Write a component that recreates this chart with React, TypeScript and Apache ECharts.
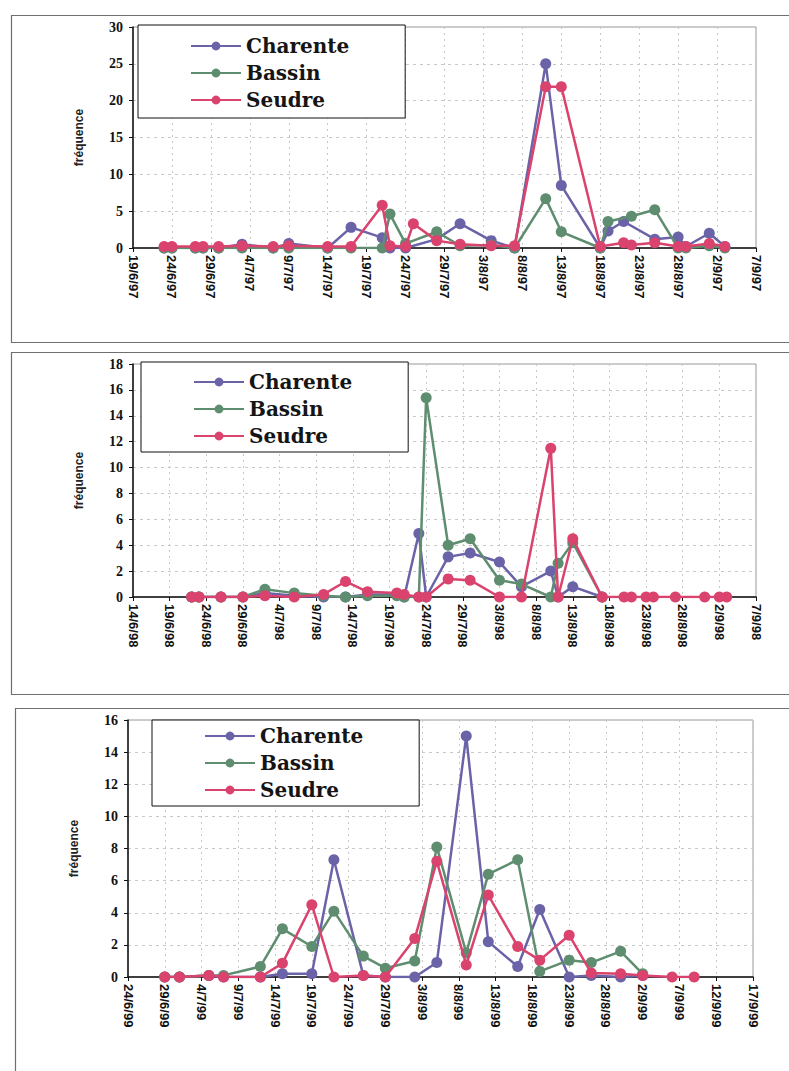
import React, { useEffect, useRef } from "react";
import * as echarts from "echarts";

// Weekly-ish sampling of larval frequency at three sites, summers 1997–1999.
// Each point: ["day/month", frequency]
const charente97: [string, number][] = [
  ["23/6", 0], ["24/6", 0], ["27/6", 0], ["28/6", 0], ["30/6", 0], ["3/7", 0.5], ["7/7", 0], ["9/7", 0.6],
  ["14/7", 0], ["17/7", 2.8], ["21/7", 1.4], ["22/7", 0], ["24/7", 0], ["28/7", 1.2], ["31/7", 3.3], ["4/8", 1.0],
  ["7/8", 0], ["11/8", 25], ["13/8", 8.5], ["18/8", 0], ["19/8", 2.3], ["21/8", 3.6], ["25/8", 1.2], ["28/8", 1.5],
  ["29/8", 0.2], ["1/9", 2.0], ["3/9", 0.2],
];
const bassin97: [string, number][] = [
  ["23/6", 0], ["24/6", 0], ["27/6", 0], ["28/6", 0], ["30/6", 0], ["3/7", 0], ["7/7", 0], ["9/7", 0],
  ["14/7", 0], ["17/7", 0], ["21/7", 0], ["22/7", 4.6], ["24/7", 0.6], ["28/7", 2.2], ["31/7", 0.3], ["4/8", 0.4],
  ["7/8", 0], ["11/8", 6.7], ["13/8", 2.2], ["18/8", 0], ["19/8", 3.6], ["22/8", 4.3], ["25/8", 5.2], ["28/8", 0],
  ["29/8", 0], ["1/9", 0.3], ["3/9", 0],
];
const seudre97: [string, number][] = [
  ["23/6", 0.2], ["24/6", 0.2], ["27/6", 0.2], ["28/6", 0.2], ["30/6", 0.2], ["3/7", 0.3], ["7/7", 0.2], ["9/7", 0.3],
  ["14/7", 0.2], ["17/7", 0.2], ["21/7", 5.8], ["22/7", 0.3], ["24/7", 0.2], ["25/7", 3.3], ["28/7", 1.0], ["31/7", 0.5],
  ["4/8", 0.3], ["7/8", 0.3], ["11/8", 21.9], ["13/8", 21.9], ["18/8", 0.2], ["21/8", 0.7], ["22/8", 0.4], ["25/8", 0.7],
  ["28/8", 0.2], ["29/8", 0.2], ["1/9", 0.6], ["3/9", 0.2],
];

const charente98: [string, number][] = [
  ["22/6", 0], ["23/6", 0], ["26/6", 0], ["29/6", 0], ["2/7", 0.3], ["6/7", 0.1], ["10/7", 0], ["13/7", 0],
  ["16/7", 0.2], ["20/7", 0.2], ["21/7", 0], ["23/7", 4.9], ["24/7", 0], ["27/7", 3.1], ["30/7", 3.4], ["3/8", 2.7],
  ["6/8", 0.8], ["10/8", 2.0], ["11/8", 0], ["13/8", 0.8], ["17/8", 0],
];
const bassin98: [string, number][] = [
  ["22/6", 0], ["23/6", 0], ["26/6", 0], ["29/6", 0], ["2/7", 0.6], ["6/7", 0.3], ["10/7", 0.1], ["13/7", 0],
  ["16/7", 0.1], ["20/7", 0.1], ["21/7", 0], ["23/7", 0], ["24/7", 15.4], ["27/7", 4.0], ["30/7", 4.5], ["3/8", 1.3],
  ["6/8", 1.0], ["10/8", 0], ["11/8", 2.6], ["13/8", 4.2], ["17/8", 0],
];
const seudre98: [string, number][] = [
  ["22/6", 0], ["23/6", 0], ["26/6", 0], ["29/6", 0], ["2/7", 0.1], ["6/7", 0], ["10/7", 0.2], ["13/7", 1.2],
  ["16/7", 0.4], ["20/7", 0.3], ["21/7", 0.2], ["23/7", 0], ["24/7", 0], ["27/7", 1.4], ["30/7", 1.3], ["3/8", 0],
  ["6/8", 0], ["10/8", 11.5], ["11/8", 0], ["13/8", 4.5], ["17/8", 0], ["20/8", 0], ["21/8", 0], ["23/8", 0],
  ["24/8", 0], ["27/8", 0], ["31/8", 0], ["2/9", 0], ["3/9", 0],
];

const charente99: [string, number][] = [
  ["29/6", 0], ["1/7", 0], ["5/7", 0.1], ["7/7", 0], ["12/7", 0], ["15/7", 0.2], ["19/7", 0.2], ["22/7", 7.3],
  ["26/7", 0.1], ["29/7", 0], ["2/8", 0], ["5/8", 0.9], ["9/8", 15.0], ["12/8", 2.2], ["16/8", 0.65], ["19/8", 4.2],
  ["23/8", 0], ["26/8", 0.1], ["30/8", 0], ["2/9", 0.1],
];
const bassin99: [string, number][] = [
  ["29/6", 0], ["1/7", 0], ["5/7", 0.1], ["7/7", 0.1], ["12/7", 0.65], ["15/7", 3.0], ["19/7", 1.9], ["22/7", 4.1],
  ["26/7", 1.3], ["29/7", 0.55], ["2/8", 1.0], ["5/8", 8.1], ["9/8", 1.5], ["12/8", 6.4], ["16/8", 7.3], ["19/8", 0.35],
  ["23/8", 1.05], ["26/8", 0.9], ["30/8", 1.6], ["2/9", 0.2],
];
const seudre99: [string, number][] = [
  ["29/6", 0], ["1/7", 0], ["5/7", 0.1], ["7/7", 0], ["12/7", 0], ["15/7", 0.85], ["19/7", 4.5], ["22/7", 0],
  ["26/7", 0.1], ["29/7", 0], ["2/8", 2.4], ["5/8", 7.2], ["9/8", 0.75], ["12/8", 5.1], ["16/8", 1.9], ["19/8", 1.05],
  ["23/8", 2.6], ["26/8", 0.25], ["30/8", 0.2], ["2/9", 0.1], ["6/9", 0], ["9/9", 0],
];

// Axis ranges: first tick date, span in days (ticks every 5 days), y max and step
const seasons = [
  { year: 1997, start: "19/6", span: 80, yMax: 30, yStep: 5, data: [charente97, bassin97, seudre97] },
  { year: 1998, start: "14/6", span: 85, yMax: 18, yStep: 2, data: [charente98, bassin98, seudre98] },
  { year: 1999, start: "24/6", span: 85, yMax: 16, yStep: 2, data: [charente99, bassin99, seudre99] },
];

const siteNames = ["Charente", "Bassin", "Seudre"];
const siteColors = ["#6a63a8", "#5f8d6f", "#d9436d"];

const DAY = 86400000;
const toUTC = (dm: string, year: number) => {
  const [d, m] = dm.split("/").map(Number);
  return Date.UTC(year, m - 1, d);
};

export default function App() {
  const ref = useRef<HTMLDivElement>(null);

  useEffect(() => {
    if (!ref.current) return;
    const chart = echarts.init(ref.current, undefined, { renderer: "svg" });

    // Layout of each panel (px)
    const panels = [
      { frame: [11, 15, 327], grid: [133, 27, 623, 221], legend: [138, 25, 10, 7] },
      { frame: [11, 352, 342], grid: [133, 364, 623, 233], legend: [141, 362, 9, 5] },
      { frame: [15, 708, 400], grid: [128, 720, 625, 257], legend: [152, 720, 5, 5] },
    ];

    const grids: any[] = [];
    const xAxes: any[] = [];
    const yAxes: any[] = [];
    const legends: any[] = [];
    const series: any[] = [];
    const graphics: any[] = [];

    seasons.forEach((s, i) => {
      const p = panels[i];
      const t0 = toUTC(s.start, s.year);
      const yy = String(s.year).slice(2);

      graphics.push({
        type: "rect",
        silent: true,
        z: -10,
        shape: { x: p.frame[0] + 0.5, y: p.frame[1] + 0.5, width: 820, height: p.frame[2] },
        style: { fill: "none", stroke: "#6f6f6f", lineWidth: 1.2 },
      });

      grids.push({
        left: p.grid[0],
        top: p.grid[1],
        width: p.grid[2],
        height: p.grid[3],
        show: true,
        borderColor: "#9a9a9a",
        borderWidth: 1,
        backgroundColor: "#fff",
      });

      xAxes.push({
        type: "value",
        gridIndex: i,
        min: 0,
        max: s.span,
        interval: 5,
        axisLine: { onZero: false, lineStyle: { color: "#111", width: 1.5 } },
        axisTick: { show: true, inside: false, length: 4, lineStyle: { color: "#111" } },
        splitLine: { show: true, lineStyle: { color: "#c8c8c8", type: [2, 4], width: 1 } },
        axisLabel: {
          rotate: -90,
          margin: 7,
          color: "#111",
          fontFamily: "Liberation Sans",
          fontWeight: "bold",
          fontSize: 13,
          showMinLabel: true,
          showMaxLabel: true,
          formatter: (v: number) => {
            const d = new Date(t0 + v * DAY);
            return `${d.getUTCDate()}/${d.getUTCMonth() + 1}/${yy}`;
          },
        },
      });

      yAxes.push({
        type: "value",
        gridIndex: i,
        min: 0,
        max: s.yMax,
        interval: s.yStep,
        name: "fréquence",
        nameLocation: "middle",
        nameRotate: 90,
        nameGap: 48,
        nameTextStyle: { fontFamily: "Liberation Sans", fontWeight: "bold", fontSize: 12, color: "#222" },
        axisLine: { show: true, lineStyle: { color: "#111", width: 1.5 } },
        axisTick: { show: true, length: 4, lineStyle: { color: "#111" } },
        splitLine: { show: true, lineStyle: { color: "#c8c8c8", type: [3, 4], width: 1 } },
        axisLabel: {
          margin: 10,
          color: "#111",
          fontFamily: "Liberation Serif",
          fontWeight: "bold",
          fontSize: 14,
        },
      });

      legends.push({
        data: siteNames,
        orient: "vertical",
        left: p.legend[0],
        top: p.legend[1],
        itemWidth: 50,
        itemHeight: 11,
        itemGap: 5,
        padding: [p.legend[2], 56, p.legend[3], 52],
        borderColor: "#111",
        borderWidth: 1,
        backgroundColor: "#fff",
        textStyle: {
          fontFamily: "DejaVu Serif",
          fontWeight: "bold",
          fontSize: 20,
          lineHeight: 22,
          color: "#151515",
        },
      });

      s.data.forEach((pts, k) => {
        series.push({
          type: "line",
          name: siteNames[k],
          xAxisIndex: i,
          yAxisIndex: i,
          data: pts.map(([dm, v]) => [(toUTC(dm, s.year) - t0) / DAY, v]),
          symbol: "circle",
          symbolSize: 11,
          color: siteColors[k],
          lineStyle: { width: 2.5, color: siteColors[k] },
          itemStyle: { color: siteColors[k] },
          z: 3 + k,
        });
      });
    });

    chart.setOption({
      animation: false,
      backgroundColor: "#fff",
      graphic: graphics,
      grid: grids,
      xAxis: xAxes,
      yAxis: yAxes,
      legend: legends,
      series,
    });

    return () => chart.dispose();
  }, []);

  return (
    <div
      ref={ref}
      style={{ position: "absolute", left: 0, top: 0, width: 789, height: 1071, background: "#fff" }}
    />
  );
}
